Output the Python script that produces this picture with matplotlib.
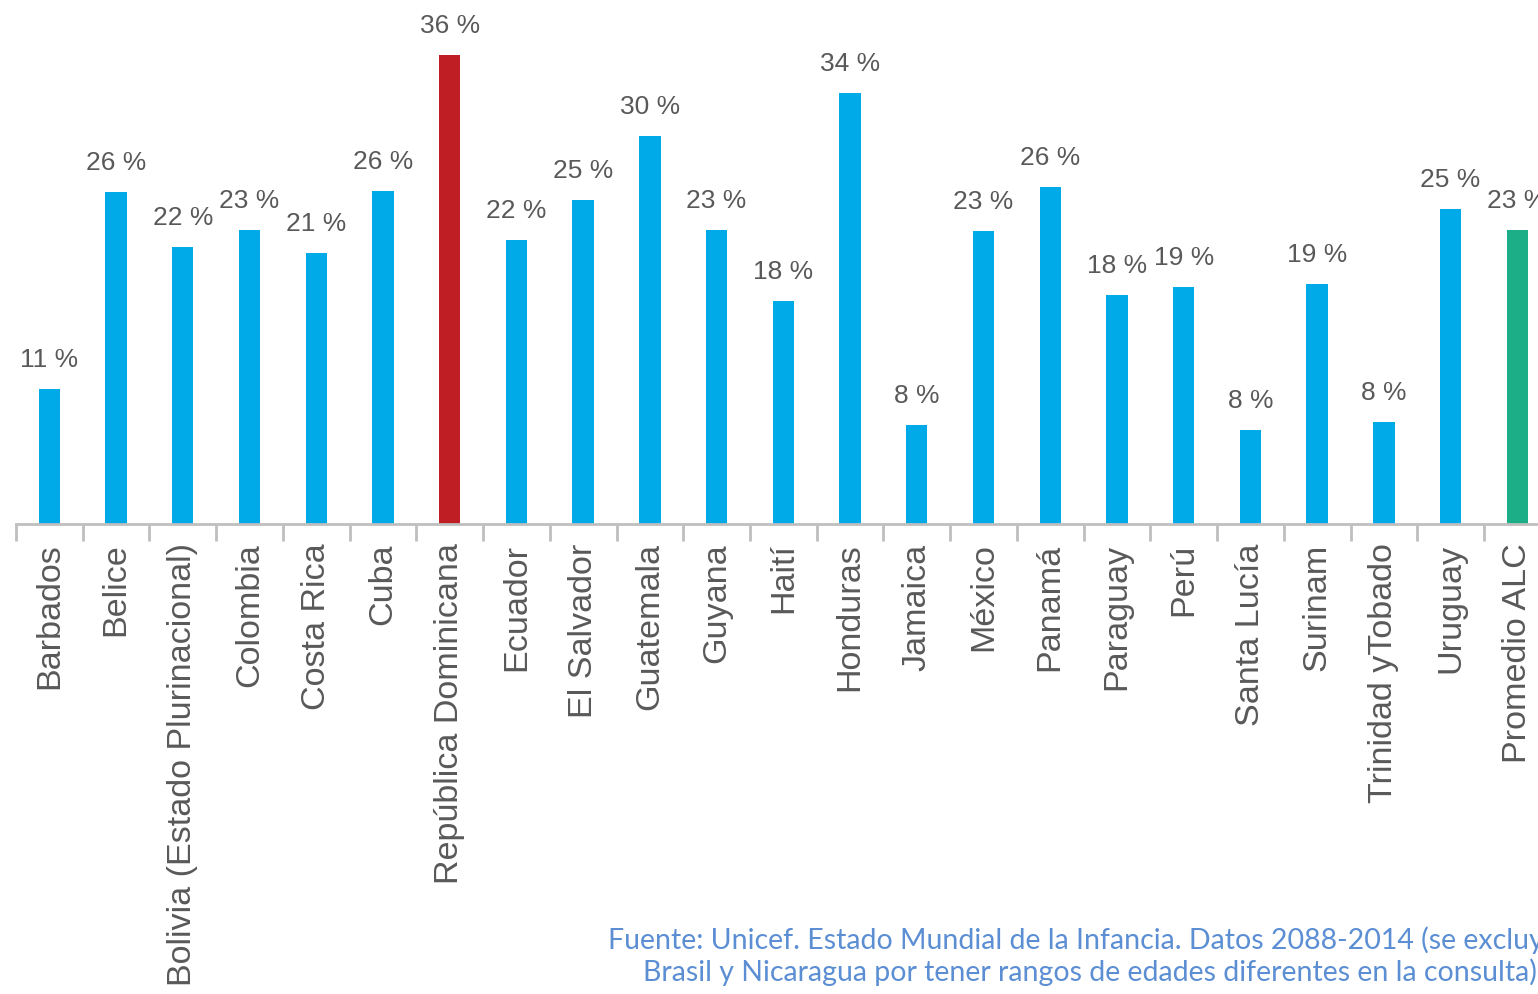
import matplotlib.pyplot as plt
import numpy as np

countries = ['Barbados', 'Belice', 'Bolivia (Estado Plurinacional)', 'Colombia', 'Costa Rica',
             'Cuba', 'República Dominicana', 'Ecuador', 'El Salvador', 'Guatemala', 'Guyana',
             'Haití', 'Honduras', 'Jamaica', 'México', 'Panamá', 'Paraguay', 'Perú',
             'Santa Lucía', 'Surinam', 'Trinidad yTobado', 'Uruguay', 'Promedio ALC']
values = [10.4, 25.5, 21.3, 22.6, 20.8, 25.6, 36.0, 21.8, 24.9, 29.8, 22.6, 17.1, 33.1,
          7.6, 22.5, 25.9, 17.6, 18.2, 7.2, 18.4, 7.8, 24.2, 22.6]
labels = ['11 %', '26 %', '22 %', '23 %', '21 %', '26 %', '36 %', '22 %', '25 %', '30 %',
          '23 %', '18 %', '34 %', '8 %', '23 %', '26 %', '18 %', '19 %', '8 %', '19 %',
          '8 %', '25 %', '23 %']

BLUE = '#00A9E8'
RED = '#BE1E24'
GREEN = '#1BAE87'
GREY = '#595959'

colors = [BLUE] * len(countries)
colors[countries.index('República Dominicana')] = RED
colors[countries.index('Promedio ALC')] = GREEN

fig = plt.figure(figsize=(15.38, 9.94), dpi=100)
ax = fig.add_axes([16 / 1538, 470 / 994, 1 - 16 / 1538, 521 / 994])

x = np.arange(len(countries))
ax.bar(x, values, width=0.32, color=colors)
for xi, v, lab in zip(x, values, labels):
    ax.text(xi, v + 1.3, lab, ha='center', va='bottom', fontsize=19,
            color=GREY, family='Liberation Sans')

# right side is cut by the figure edge, like the source image
ax.set_xlim(-0.5, 22.31)
ax.set_ylim(0, 40)

for s in ['top', 'right', 'left']:
    ax.spines[s].set_visible(False)
ax.spines['bottom'].set_color('#BFBFBF')
ax.spines['bottom'].set_linewidth(2)
ax.set_yticks([])

ax.set_xticks(x)
ax.set_xticklabels(countries, rotation=90, fontsize=24.6, color=GREY,
                   family='Liberation Sans', va='top')
ax.tick_params(axis='x', which='major', length=0, pad=14)
ax.set_xticks(np.arange(len(countries)) - 0.5, minor=True)
ax.tick_params(axis='x', which='minor', length=12, width=2, color='#BFBFBF')

src_color = '#5B8ED3'
fig.text(608 / 1538, 1 - 940 / 994,
         'Fuente: Unicef. Estado Mundial de la Infancia. Datos 2088-2014 (se excluye',
         ha='left', va='center', fontsize=20.5, color=src_color, family='Lato')
fig.text(643 / 1538, 1 - 972 / 994,
         'Brasil y Nicaragua por tener rangos de edades diferentes en la consulta)',
         ha='left', va='center', fontsize=20.5, color=src_color, family='Lato')

fig.savefig('out.png', dpi=100)
